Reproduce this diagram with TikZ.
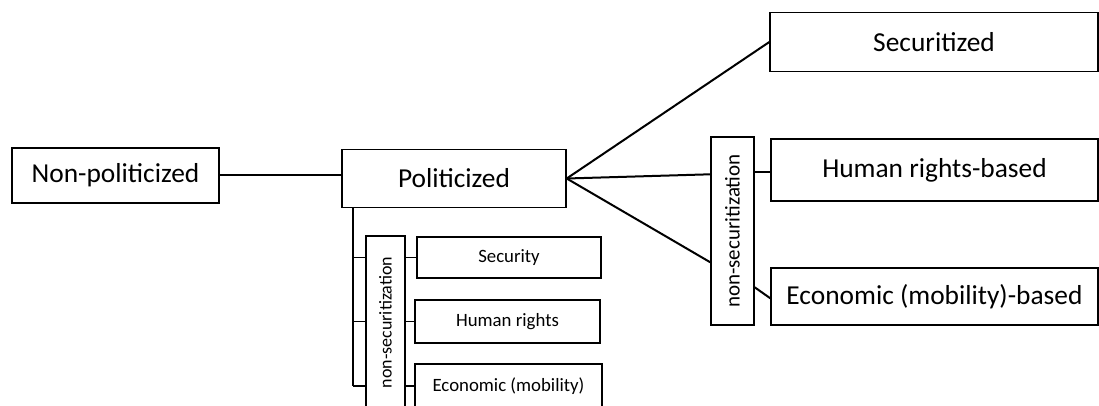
\documentclass[tikz,border=0pt]{standalone}
\usepackage{fontspec}
\setmainfont{Carlito}
\usetikzlibrary{calc}
\begin{document}
\begin{tikzpicture}[x=1pt,y=-1pt,
  box/.style={draw=black,line width=1.4pt,rectangle,inner sep=0pt,align=center},
  big/.style={font=\fontsize{27.4}{31}\selectfont},
  small/.style={font=\fontsize{18.8}{22}\selectfont},
  conn/.style={line width=2pt},
  tick/.style={line width=1.5pt}]
\useasboundingbox (0,0) rectangle (1099,406);
\clip (0,0) rectangle (1099,406);
\node[box,big,minimum width=207,minimum height=55] (NP) at (115.5,175.5) {Non-politicized};
\node[box,big,minimum width=224,minimum height=58] (P) at (454,178.5) {Politicized};
\node[box,big,minimum width=328,minimum height=59] (S) at (934,42) {Securitized};
\node[box,big,minimum width=327,minimum height=62] (HRB) at (934.5,170) {Human rights-based};
\node[box,big,minimum width=327,minimum height=57] (EB) at (934.5,296.5) {Economic (mobility)-based};
\node[box,minimum width=43,minimum height=188,font=\fontsize{21}{24}\selectfont] (NSR) at (732.5,231) {\rotatebox{90}{non-securitization}};
\node[box,minimum width=39,minimum height=173,font=\fontsize{18}{22}\selectfont] (NSL) at (385.5,322.5) {\rotatebox{90}{non-securitization}};
\node[box,small,minimum width=184,minimum height=41] (SE) at (509,257.5) {Security};
\node[box,small,minimum width=185,minimum height=43] (HR) at (507.5,321.5) {Human rights};
\node[box,small,minimum width=187,minimum height=44] (EC) at (508.5,386) {Economic (mobility)};
\coordinate (V) at (353,208);
% main connectors
\draw[conn] (NP.east) -- (P.west |- NP.east);
\draw[conn] (P.east) -- (S.west);
\draw[conn] (P.east) -- ($(NSR.north west)+(0,38)$);
\draw[conn] (P.east) -- ($(NSR.north west)+(0,126)$);
\draw[conn] ($(NSR.north east)+(0,36)$) -- ($(HRB.north west)+(0,34)$);
\draw[conn] ($(NSR.north east)+(0,151)$) -- ($(EB.north west)+(0,31)$);
% lower bracket
\draw[tick] (V) -- (V |- EC.west);
\draw[tick] (V |- SE.west) -- (NSL.west |- SE.west);
\draw[tick] (V |- HR.west) -- (NSL.west |- HR.west);
\draw[tick] (V |- EC.west) -- (NSL.west |- EC.west);
\draw[tick] (NSL.east |- SE.west) -- (SE.west);
\draw[tick] (NSL.east |- HR.west) -- (HR.west);
\draw[tick] (NSL.east |- EC.west) -- (EC.west);
\end{tikzpicture}
\end{document}
